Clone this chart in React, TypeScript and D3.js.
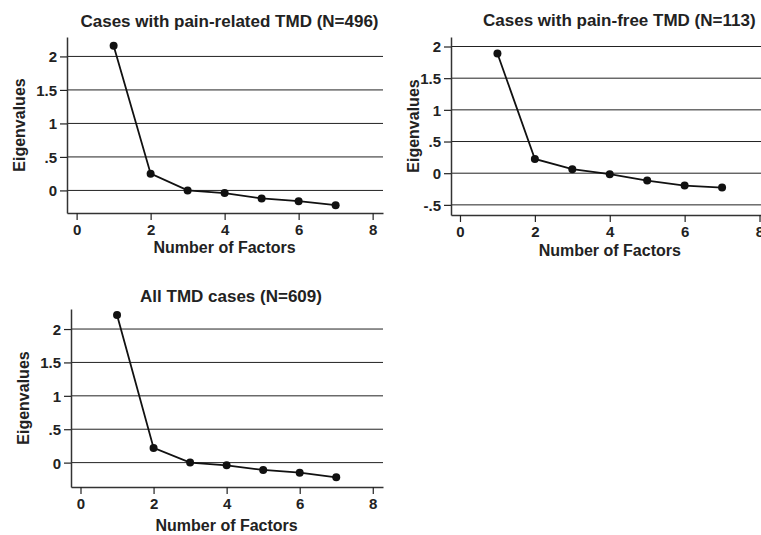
import React from 'react';
import * as d3 from 'd3';

// scree plot eigenvalues, factors 1..7
const factors = [1, 2, 3, 4, 5, 6, 7];
const painRelated = [2.16, 0.25, 0.0, -0.04, -0.12, -0.16, -0.22];
const painFree = [1.89, 0.225, 0.063, -0.016, -0.116, -0.195, -0.227];
const allCases = [2.21, 0.22, 0.0, -0.04, -0.11, -0.15, -0.22];

const xTicks = [0, 2, 4, 6, 8];
const yTicksA = [0, 0.5, 1, 1.5, 2];
const yTicksB = [-0.5, 0, 0.5, 1, 1.5, 2];

const titles = [
  'Cases with pain-related TMD (N=496)',
  'Cases with pain-free TMD (N=113)',
  'All TMD cases (N=609)',
];

const FONT = '"Liberation Sans", Arial, Helvetica, sans-serif';
const fmt = (v: number) => (v === 0 ? '0' : String(v).replace(/^(-?)0\./, '$1.'));

interface PanelProps {
  values: number[];
  title: string;
  yTicks: number[];
  xDom: [number, number];
  yDom: [number, number];
  box: { x0: number; x1: number; y0: number; y1: number };
  titleX: number; titleY: number; titleAnchor?: string;
  ylabX: number; xlabY: number;
}

function Panel(p: PanelProps) {
  const gx = React.useRef<SVGGElement>(null);
  const gy = React.useRef<SVGGElement>(null);
  const x = d3.scaleLinear().domain(p.xDom).range([p.box.x0, p.box.x1]);
  const y = d3.scaleLinear().domain(p.yDom).range([p.box.y1, p.box.y0]);

  React.useEffect(() => {
    const ax = d3.axisBottom(x).tickValues(xTicks).tickSize(7).tickSizeOuter(0).tickPadding(4).tickFormat(d => String(d));
    const ay = d3.axisLeft(y).tickValues(p.yTicks).tickSize(7).tickSizeOuter(0).tickPadding(3).tickFormat(d => fmt(+d));
    const sx = d3.select(gx.current!);
    sx.call(ax as any);
    const sy = d3.select(gy.current!);
    sy.call(ay as any);
    [sx, sy].forEach(s => {
      s.selectAll('text').attr('font-family', FONT).attr('font-weight', 'bold').attr('font-size', 15).attr('fill', '#222');
      s.selectAll('line').attr('stroke', '#222').attr('stroke-width', 1.2);
      s.select('.domain').attr('stroke', '#333').attr('stroke-width', 1.5);
    });
    sy.selectAll('text').attr('dy', '0.36em');
  });

  const line = d3.line<number>().x((_, i) => x(factors[i])).y(d => y(d));
  const cy = (p.box.y0 + p.box.y1) / 2;

  return (
    <g>
      {p.yTicks.map(t => (
        <line key={t} x1={p.box.x0} x2={p.box.x1} y1={y(t)} y2={y(t)} stroke="#222" strokeWidth={1} />
      ))}
      <g ref={gx} transform={`translate(0,${p.box.y1})`} />
      <g ref={gy} transform={`translate(${p.box.x0},0)`} />
      <path d={line(p.values) ?? ''} fill="none" stroke="#111" strokeWidth={1.8} />
      {p.values.map((v, i) => (
        <circle key={i} cx={x(factors[i])} cy={y(v)} r={4} fill="#111" />
      ))}
      <text x={p.titleX} y={p.titleY} textAnchor={p.titleAnchor ?? 'middle'} fontFamily={FONT} fontWeight="bold" fontSize={17} fill="#222">{p.title}</text>
      <text transform={`translate(${p.ylabX},${cy}) rotate(-90)`} textAnchor="middle" fontFamily={FONT} fontWeight="bold" fontSize={16} fill="#222">Eigenvalues</text>
      <text x={x(4)} y={p.xlabY} textAnchor="middle" fontFamily={FONT} fontWeight="bold" fontSize={16} fill="#222">Number of Factors</text>
    </g>
  );
}

export default function App() {
  return (
    <div style={{ position: 'absolute', left: 0, top: 0, background: '#fff' }}>
      <svg width={761} height={535} style={{ display: 'block' }}>
        <rect width={761} height={535} fill="#fff" />
        <Panel values={painRelated} title={titles[0]} yTicks={yTicksA}
          xDom={[-0.26, 8.28]} yDom={[-0.337, 2.29]}
          box={{ x0: 67, x1: 383, y0: 37, y1: 213 }}
          titleX={229.5} titleY={26.5} ylabX={25} xlabY={253} />
        <Panel values={painFree} title={titles[1]} yTicks={yTicksB}
          xDom={[-0.24, 8.28]} yDom={[-0.66, 2.15]}
          box={{ x0: 451, x1: 770, y0: 37, y1: 215 }}
          titleX={483} titleY={26} titleAnchor="start" ylabX={419} xlabY={256} />
        <Panel values={allCases} title={titles[2]} yTicks={yTicksA}
          xDom={[-0.26, 8.28]} yDom={[-0.365, 2.3]}
          box={{ x0: 71, x1: 383, y0: 309, y1: 487 }}
          titleX={231} titleY={301.5} ylabX={29} xlabY={531} />
      </svg>
    </div>
  );
}
